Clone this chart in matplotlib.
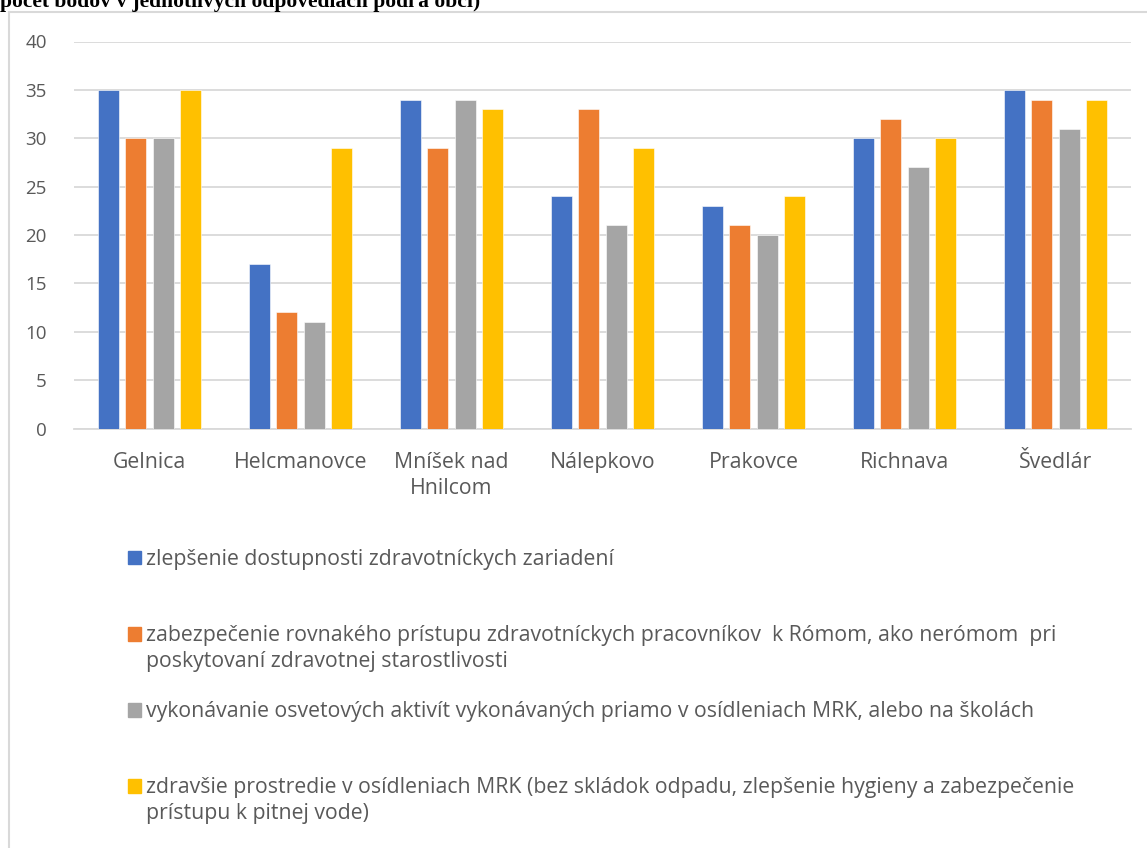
import matplotlib.pyplot as plt
from matplotlib.patches import Rectangle
from matplotlib.lines import Line2D
import numpy as np

# obce a hodnoty (počet bodov)
obce = ['Gelnica', 'Helcmanovce', 'Mníšek nad\nHnilcom', 'Nálepkovo',
        'Prakovce', 'Richnava', 'Švedlár']
dostupnost = [35, 17, 34, 24, 23, 30, 35]
rovnaky_pristup = [30, 12, 29, 33, 21, 32, 34]
osveta = [30, 11, 34, 21, 20, 27, 31]
prostredie = [35, 29, 33, 29, 24, 30, 34]

nazvy = [
    'zlepšenie dostupnosti zdravotníckych zariadení',
    'zabezpečenie rovnakého prístupu zdravotníckych pracovníkov  k Rómom, ako nerómom  pri\nposkytovaní zdravotnej starostlivosti',
    'vykonávanie osvetových aktivít vykonávaných priamo v osídleniach MRK, alebo na školách',
    'zdravšie prostredie v osídleniach MRK (bez skládok odpadu, zlepšenie hygieny a zabezpečenie\nprístupu k pitnej vode)',
]
farby = ['#4472C4', '#ED7D31', '#A5A5A5', '#FFC000']
serie = [dostupnost, rovnaky_pristup, osveta, prostredie]

W, H = 1147, 848
fig = plt.figure(figsize=(W / 100, H / 100), dpi=100)
plt.rcParams['font.family'] = ['Open Sans', 'DejaVu Sans']
sivy_text = '#595959'
velkost = 15.3

# orezany nadpis hore
fig.text(0.0, 1 - 7 / H, 'počet bodov v jednotlivých odpovediach podľa obcí)',
         family='Liberation Serif', weight='bold', fontsize=15.5,
         va='baseline', ha='left', color='black')

# ramcek grafu
fig.add_artist(Line2D([9 / W, 9 / W], [0, 1 - 12 / H], transform=fig.transFigure,
                      color='#D9D9D9', lw=1.5))
fig.add_artist(Line2D([9 / W, 1], [1 - 12 / H, 1 - 12 / H], transform=fig.transFigure,
                      color='#D9D9D9', lw=1.5))

ax = fig.add_axes([74 / W, (H - 428.5) / H, (1131 - 74) / W, 387 / H])
x = np.arange(len(obce))
sirka = 0.142
krok = 0.182
for i, (hodnoty, farba) in enumerate(zip(serie, farby)):
    ax.bar(x + (i - 1.5) * krok, hodnoty, width=sirka, color=farba,
           edgecolor='white', linewidth=0.4, zorder=3)

ax.set_xlim(-0.5, len(obce) - 0.5)
ax.set_ylim(0, 40)
ax.set_yticks(range(0, 41, 5))
ax.grid(axis='y', color='#D9D9D9', linewidth=1.3, zorder=0)
for s in ['top', 'right', 'left']:
    ax.spines[s].set_visible(False)
ax.spines['bottom'].set_color('#D9D9D9')
ax.spines['bottom'].set_linewidth(1.3)
ax.set_xticks(x)
ax.set_xticklabels(obce, linespacing=1.28)
ax.tick_params(axis='both', length=0, labelcolor=sivy_text)
ax.tick_params(axis='x', pad=17, labelsize=velkost)
ax.tick_params(axis='y', pad=19.5, labelsize=13.5)

# legenda
legenda_y = [557.5, 634, 710, 786]
for nazov, farba, yy in zip(nazvy, farby, legenda_y):
    fig.add_artist(Rectangle((127.5 / W, 1 - (yy + 6.5) / H), 13.5 / W, 13.5 / H,
                             transform=fig.transFigure, color=farba))
    fig.text(146 / W, 1 - (yy - 9) / H, nazov, fontsize=velkost, color=sivy_text,
             va='top', ha='left', linespacing=1.32)

fig.savefig('out.png', dpi=100)
